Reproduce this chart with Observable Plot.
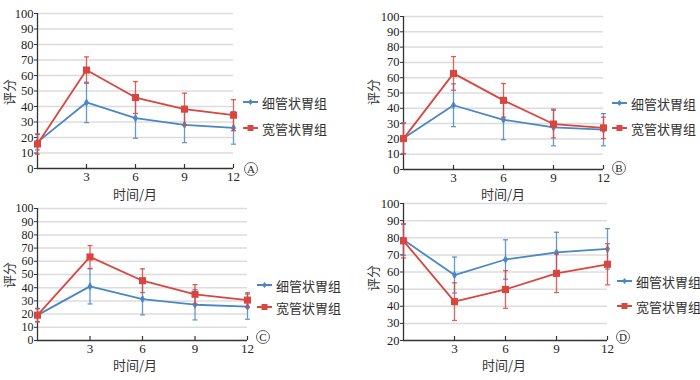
<!DOCTYPE html>
<html><head><meta charset="utf-8">
<script src="https://cdn.jsdelivr.net/npm/d3@7"></script>
<script src="https://cdn.jsdelivr.net/npm/@observablehq/plot@0.6"></script>
<style>
body{margin:0;background:#fff;}
#root{position:relative;width:700px;height:380px;overflow:hidden;font-family:"Noto Sans CJK SC","Noto Sans",sans-serif;color:#333;}
.panel{position:absolute;}
.panel svg text{font-family:"Liberation Serif",serif;}
.ylab{position:absolute;font-size:13px;transform:translate(-50%,-50%) rotate(-90deg);white-space:nowrap;line-height:1;}
.xlab{position:absolute;font-size:13px;transform:translate(-50%,-50%);white-space:nowrap;line-height:1;}
.leg{position:absolute;font-size:13px;display:flex;align-items:center;transform:translateY(-50%);white-space:nowrap;line-height:1;}
.leg svg{margin-right:4px;}
.circ{position:absolute;width:12px;height:12px;border:1px solid #666;border-radius:50%;font-family:"Liberation Serif",serif;font-size:11px;text-align:center;line-height:12px;transform:translate(-50%,-50%);color:#222;}
</style></head>
<body><div id="root"></div>
<script>
const months = [0, 3, 6, 9, 12];
const groups = ["细管状胃组", "宽管状胃组"];
const panelNames = ["A", "B", "C", "D"];
const xTicks = [3, 6, 9, 12];
const xTitle = "时间/月";
const yTitle = "评分";

// means and standard deviations per panel
const A_thin = [17, 42.6, 32.5, 28.2, 26.2];
const A_thin_sd = [5, 13, 13, 11.5, 10.5];
const A_wide = [15.8, 63.5, 45.8, 38.3, 34.4];
const A_wide_sd = [6.5, 8.5, 10.3, 10.3, 10];

const B_thin = [20.5, 42, 32.5, 27.5, 26];
const B_thin_sd = [10, 14, 13, 12, 10.5];
const B_wide = [20.2, 62.8, 45.2, 29.7, 27.2];
const B_wide_sd = [10, 11, 11, 9, 7];

const C_thin = [19.2, 41, 31.4, 27.1, 25.6];
const C_thin_sd = [5, 13.3, 12, 11.5, 9.5];
const C_wide = [19.2, 63.3, 45.3, 35, 30.6];
const C_wide_sd = [5, 8.6, 9, 7.3, 5.6];

const D_thin = [78.8, 58.2, 67.3, 71.4, 73.5];
const D_thin_sd = [9, 10.5, 11.5, 11.8, 11.8];
const D_wide = [78.2, 42.7, 49.8, 59.2, 64.5];
const D_wide_sd = [10, 11, 11, 11.2, 12];

const yTicksFull = [0, 10, 20, 30, 40, 50, 60, 70, 80, 90, 100];
const yTicksD = [20, 30, 40, 50, 60, 70, 80, 90, 100];

const blue = "#4a87c4";
const red = "#d9463f";

const panels = [
  {name: "A", thin: A_thin, thinSd: A_thin_sd, wide: A_wide, wideSd: A_wide_sd, yTicks: yTicksFull,
   left: 0, top: 0, width: 350, height: 200, mL: 37, mR: 117, mT: 13, mB: 32,
   leg: [243, 102, 128], circ: [251, 169], xl: [135, 193], yl: [8, 92]},
  {name: "B", thin: B_thin, thinSd: B_thin_sd, wide: B_wide, wideSd: B_wide_sd, yTicks: yTicksFull,
   left: 350, top: 0, width: 350, height: 200, mL: 53, mR: 97, mT: 16, mB: 31,
   leg: [612, 103, 128], circ: [619, 168], xl: [503, 193], yl: [372, 92]},
  {name: "C", thin: C_thin, thinSd: C_thin_sd, wide: C_wide, wideSd: C_wide_sd, yTicks: yTicksFull,
   left: 0, top: 190, width: 350, height: 190, mL: 37, mR: 103, mT: 18, mB: 40,
   leg: [257, 285, 307], circ: [263, 337], xl: [135, 364], yl: [8, 275]},
  {name: "D", thin: D_thin, thinSd: D_thin_sd, wide: D_wide, wideSd: D_wide_sd, yTicks: yTicksD,
   left: 350, top: 190, width: 350, height: 190, mL: 53, mR: 93, mT: 13, mB: 40,
   leg: [617, 281, 306], circ: [623, 337], xl: [504, 364], yl: [372, 278]}
];

const root = document.getElementById("root");

function rows(mean, sd, group) {
  return months.map((m, i) => ({x: m, y: mean[i], sd: sd[i], group}));
}

for (const p of panels) {
  const thinRows = rows(p.thin, p.thinSd, groups[0]);
  const wideRows = rows(p.wide, p.wideSd, groups[1]);
  const ymin = p.yTicks[0], ymax = p.yTicks[p.yTicks.length - 1];
  const innerH = p.height - p.mT - p.mB;
  const innerW = p.width - p.mL - p.mR;
  const uY = (ymax - ymin) / innerH; // data units per px (y)
  const uX = 12 / innerW;
  const capHalf = 2.5 * uX;
  const tickLen = 4 * uY;
  const tickFont = p.name === "C" ? 12 : 12.5;

  function seriesMarks(data, color, symbol, r) {
    return [
      Plot.ruleX(data, {x: "x", y1: d => d.y - d.sd, y2: d => d.y + d.sd, stroke: color, strokeWidth: 1.3, strokeOpacity: 0.85}),
      Plot.link(data, {x1: d => d.x - capHalf, x2: d => d.x + capHalf, y1: d => d.y + d.sd, y2: d => d.y + d.sd, stroke: color, strokeWidth: 1.3, strokeOpacity: 0.85}),
      Plot.link(data, {x1: d => d.x - capHalf, x2: d => d.x + capHalf, y1: d => d.y - d.sd, y2: d => d.y - d.sd, stroke: color, strokeWidth: 1.3, strokeOpacity: 0.85}),
      Plot.line(data, {x: "x", y: "y", stroke: color, strokeWidth: 1.8}),
      Plot.dot(data, {x: "x", y: "y", fill: color, symbol, r, stroke: "none"})
    ];
  }

  const chart = Plot.plot({
    width: p.width, height: p.height,
    marginLeft: p.mL, marginRight: p.mR, marginTop: p.mT, marginBottom: p.mB,
    style: {background: "transparent", fontFamily: "'Liberation Serif', serif", fontSize: "13px", color: "#222"},
    x: {domain: [0, 12]},
    y: {domain: [ymin, ymax]},
    marks: [
      Plot.ruleY(p.yTicks.slice(1), {x1: 0, x2: 12, stroke: "#dcdcdc", strokeWidth: 1.5}),
      Plot.ruleX([0], {y1: ymin, y2: ymax, stroke: "#333", strokeWidth: 1.3}),
      Plot.ruleY([ymin], {x1: 0, x2: 12, stroke: "#333", strokeWidth: 1.3}),
      Plot.ruleX(xTicks, {y1: ymin, y2: ymin + tickLen, stroke: "#333", strokeWidth: 1.2}),
      Plot.axisY({ticks: p.yTicks, tickSize: 3, tickPadding: 1, label: null, fontSize: tickFont, fontFamily: "Liberation Serif", stroke: "#333"}),
      Plot.axisX({ticks: xTicks, tickSize: 0, tickPadding: 3, label: null, fontSize: 13, fontFamily: "Liberation Serif"}),
      ...seriesMarks(thinRows, blue, "diamond", 2.6),
      ...seriesMarks(wideRows, red, "square", 4)
    ]
  });
  const wrap = document.createElement("div");
  wrap.className = "panel";
  wrap.style.left = p.left + "px";
  wrap.style.top = p.top + "px";
  wrap.appendChild(chart);
  root.appendChild(wrap);

  // axis titles
  const xl = document.createElement("div");
  xl.className = "xlab"; xl.textContent = xTitle;
  xl.style.left = p.xl[0] + "px"; xl.style.top = p.xl[1] + "px";
  root.appendChild(xl);
  const yl = document.createElement("div");
  yl.className = "ylab"; yl.textContent = yTitle;
  yl.style.left = p.yl[0] + "px"; yl.style.top = p.yl[1] + "px";
  root.appendChild(yl);

  // legend
  [[groups[0], blue, "diamond"], [groups[1], red, "square"]].forEach(([g, c, s], i) => {
    const d = document.createElement("div");
    d.className = "leg";
    d.style.left = p.leg[0] + "px";
    d.style.top = p.leg[1 + i] + "px";
    const marker = s === "square"
      ? `<rect x="4.5" y="2.5" width="6" height="6" fill="${c}"/>`
      : `<path d="M7.5,2.5 L10,5.5 L7.5,8.5 L5,5.5Z" fill="${c}"/>`;
    d.innerHTML = `<svg width="15" height="11"><line x1="0" x2="15" y1="5.5" y2="5.5" stroke="${c}" stroke-width="1.8"/>${marker}</svg><span>${g}</span>`;
    root.appendChild(d);
  });

  // circled panel letter
  const c = document.createElement("div");
  c.className = "circ"; c.textContent = p.name;
  c.style.left = p.circ[0] + "px"; c.style.top = p.circ[1] + "px";
  root.appendChild(c);
}
</script></body></html>
